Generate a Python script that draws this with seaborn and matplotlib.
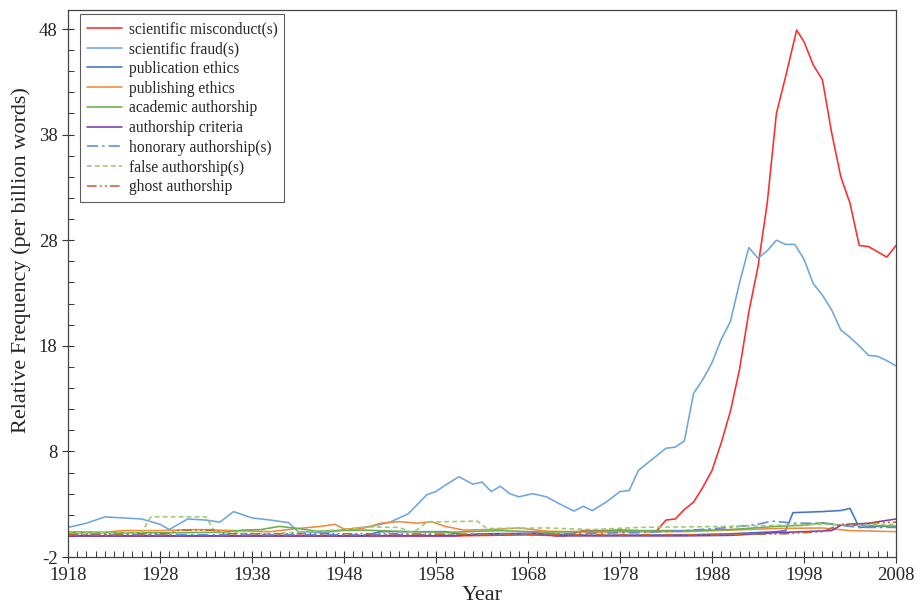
import matplotlib
matplotlib.use('Agg')
import matplotlib.pyplot as plt
from matplotlib.ticker import MultipleLocator
import seaborn as sns
import pandas as pd

# values (per billion words)
misconduct_years = [1918, 1930, 1940, 1950, 1960, 1968, 1972, 1974, 1976, 1978, 1980, 1981, 1982, 1983,
                    1984, 1985, 1986, 1987, 1988, 1989, 1990, 1991, 1992, 1993, 1994, 1995, 1996, 1997.2,
                    1998, 1999, 2000, 2001, 2002, 2003, 2004, 2005, 2006, 2007, 2008]
misconduct_vals = [0.0, 0.0, 0.0, 0.0, 0.0, 0.1, 0.0, 0.5, 0.5, 0.55, 0.5, 0.4, 0.5, 1.5,
                   1.6, 2.5, 3.2, 4.6, 6.2, 8.8, 11.8, 15.8, 21.2, 25.5, 31.5, 40.0, 43.5, 47.9,
                   46.8, 44.6, 43.2, 38.2, 34.0, 31.5, 27.5, 27.4, 26.9, 26.4, 27.5]

fraud_years = [1918, 1920, 1922, 1924, 1926, 1928, 1929, 1931, 1933, 1934.5, 1936, 1938, 1940, 1942,
               1943, 1946, 1949, 1951, 1953, 1955, 1957, 1958, 1959, 1960.5, 1962, 1963, 1964, 1965,
               1966, 1967, 1968.5, 1970, 1971.5, 1973, 1974, 1975, 1976.5, 1978, 1979, 1980, 1981,
               1983, 1984, 1985, 1986, 1987, 1988, 1989, 1990, 1991, 1992, 1993, 1994, 1995, 1996,
               1997, 1998, 1999, 2000, 2001, 2002, 2003, 2004, 2005, 2006, 2007, 2008]
fraud_vals = [0.8, 1.2, 1.8, 1.7, 1.6, 1.1, 0.6, 1.6, 1.5, 1.3, 2.3, 1.7, 1.5, 1.25,
              0.4, 0.3, 0.7, 0.9, 1.3, 2.1, 3.9, 4.2, 4.8, 5.6, 4.9, 5.1, 4.2, 4.7,
              4.0, 3.7, 4.0, 3.7, 3.0, 2.35, 2.8, 2.4, 3.2, 4.2, 4.3, 6.2, 6.9,
              8.3, 8.4, 9.0, 13.5, 14.8, 16.4, 18.6, 20.3, 24.0, 27.3, 26.3, 27.0, 28.0, 27.6,
              27.6, 26.2, 23.9, 22.8, 21.4, 19.5, 18.8, 18.0, 17.1, 17.0, 16.6, 16.1]

pub_ethics_years = [1918, 1950, 1952, 1959, 1961, 1970, 1975, 1985, 1990, 1995, 1996, 1996.8,
                    2000, 2002, 2003, 2004, 2006, 2008]
pub_ethics_vals = [0.0, 0.0, 0.4, 0.4, 0.1, 0.2, 0.05, 0.1, 0.2, 0.4, 0.5, 2.2,
                   2.3, 2.4, 2.6, 0.8, 0.9, 0.9]

publishing_years = [1918, 1922, 1924, 1928, 1932, 1936, 1940, 1943, 1945.5, 1947, 1948, 1950, 1952,
                    1954, 1956, 1957.5, 1959, 1961, 1964, 1967, 1970, 1975, 1980, 1985, 1990, 1995,
                    2000, 2003, 2008]
publishing_vals = [0.4, 0.35, 0.5, 0.5, 0.6, 0.5, 0.4, 0.7, 0.9, 1.1, 0.65, 0.7, 1.2,
                   1.35, 1.2, 1.35, 0.9, 0.55, 0.6, 0.75, 0.45, 0.35, 0.4, 0.4, 0.55, 0.7,
                   0.75, 0.5, 0.4]

academic_years = [1918, 1930, 1935, 1937, 1939, 1941, 1943, 1945, 1950, 1955, 1960, 1965, 1970,
                  1975, 1980, 1985, 1990, 1995, 1998, 2000, 2002, 2005, 2008]
academic_vals = [0.3, 0.3, 0.35, 0.55, 0.6, 0.9, 0.7, 0.45, 0.55, 0.4, 0.35, 0.5, 0.35,
                 0.45, 0.5, 0.5, 0.6, 0.9, 1.0, 1.25, 1.0, 1.0, 0.9]

criteria_years = [1918, 1960, 1963, 1969, 1971, 1985, 1990, 1995, 2001, 2002, 2005, 2008]
criteria_vals = [0.0, 0.0, 0.2, 0.25, 0.0, 0.0, 0.05, 0.3, 0.5, 1.0, 1.2, 1.6]

honorary_years = [1918, 1950, 1970, 1980, 1985, 1990, 1993, 1994.5, 1997, 2000, 2002, 2004, 2008]
honorary_vals = [0.1, 0.1, 0.2, 0.3, 0.5, 0.8, 1.1, 1.4, 1.2, 1.2, 1.0, 0.8, 0.8]

false_years = [1918, 1926, 1927, 1933, 1934, 1940, 1944, 1948, 1950.5, 1954, 1955.5, 1957, 1962.5,
               1963.5, 1970, 1975, 1980, 1990, 2000, 2004, 2008]
false_vals = [0.3, 0.3, 1.8, 1.8, 0.3, 0.2, 0.4, 0.6, 0.85, 0.8, 0.3, 1.3, 1.4,
              0.7, 0.75, 0.6, 0.8, 0.9, 1.1, 1.0, 1.1]

ghost_years = [1918, 1929, 1930, 1934, 1935, 1950, 1970, 1990, 1996, 2000, 2002, 2005, 2008]
ghost_vals = [0.15, 0.2, 0.55, 0.55, 0.2, 0.2, 0.1, 0.1, 0.2, 0.4, 1.1, 1.2, 1.3]

series = [
    ('scientific misconduct(s)', misconduct_years, misconduct_vals, '#FF2B2B', '-'),
    ('scientific fraud(s)', fraud_years, fraud_vals, '#6CA6DF', '-'),
    ('publication ethics', pub_ethics_years, pub_ethics_vals, '#4273CF', '-'),
    ('publishing ethics', publishing_years, publishing_vals, '#F28A3C', '-'),
    ('academic authorship', academic_years, academic_vals, '#6AAF48', '-'),
    ('authorship criteria', criteria_years, criteria_vals, '#7A3AB0', '-'),
    ('honorary authorship(s)', honorary_years, honorary_vals, '#5B8BE0', (0, (7, 2.5, 1.5, 2.5))),
    ('false authorship(s)', false_years, false_vals, '#9CCB6C', (0, (3, 2))),
    ('ghost authorship', ghost_years, ghost_vals, '#C8642E', (0, (6, 2, 1.2, 2, 1.2, 2))),
]

sns.set_style('white')
plt.rcParams['font.family'] = ['Liberation Serif', 'DejaVu Serif']
plt.rcParams['axes.unicode_minus'] = False

fig = plt.figure(figsize=(9.21, 6.06), dpi=100)
ax = fig.add_axes([68 / 921, 49 / 606, 828 / 921, 547 / 606])

for name, yrs, vals, color, ls in series:
    df = pd.DataFrame({'Year': yrs, 'value': vals})
    sns.lineplot(data=df, x='Year', y='value', ax=ax, color=color, linestyle=ls,
                 linewidth=1.15, label=name)

ax.set_xlim(1918, 2008)
ax.set_ylim(-2, 49.8)
ax.set_xticks(range(1918, 2009, 10))
ax.set_yticks(range(-2, 49, 10))
ax.xaxis.set_minor_locator(MultipleLocator(1))
ax.yaxis.set_minor_locator(MultipleLocator(2))
ax.tick_params(axis='both', which='major', direction='inout', length=8, width=0.8,
               labelsize=13.5, color='#333333', bottom=True, left=True)
ax.tick_params(axis='both', which='minor', direction='in', length=4, width=0.7,
               color='#333333', bottom=True, left=True)
for sp in ax.spines.values():
    sp.set_color('#444444')
    sp.set_linewidth(0.9)

ax.set_xlabel('Year', fontsize=16, labelpad=1)
ax.set_ylabel('Relative Frequency (per billion words)', fontsize=16)
ax.yaxis.set_label_coords(-0.045, 0.543)

leg = ax.legend(loc='upper left', bbox_to_anchor=(0.015, 0.992), fontsize=11.2, frameon=True,
                fancybox=False, handlelength=2.2, handletextpad=0.45, labelspacing=0.24,
                borderpad=0.45, borderaxespad=0.0)
leg.get_frame().set_edgecolor('#333333')
leg.get_frame().set_linewidth(0.8)

plt.savefig('out.png', dpi=100)
